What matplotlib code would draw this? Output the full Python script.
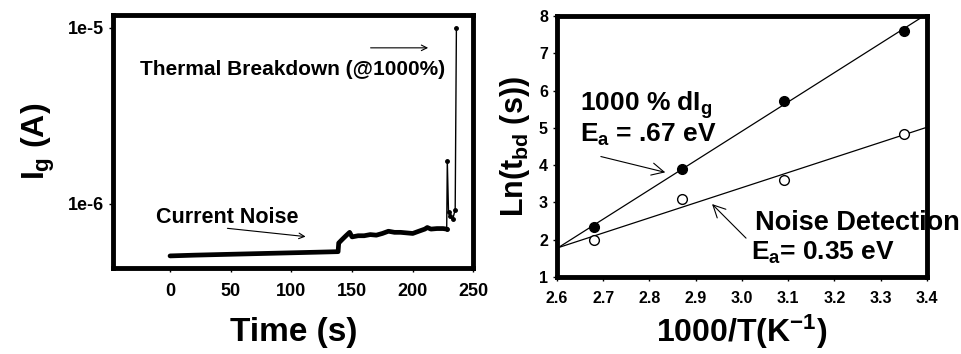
import numpy as np
import matplotlib.pyplot as plt

plt.rcParams['font.family'] = ['Liberation Sans', 'DejaVu Sans']
plt.rcParams['font.weight'] = 'bold'
plt.rcParams['mathtext.fontset'] = 'custom'
plt.rcParams['mathtext.rm'] = 'Liberation Sans:bold'
plt.rcParams['mathtext.it'] = 'Liberation Sans:bold'
plt.rcParams['mathtext.bf'] = 'Liberation Sans:bold'

# left panel: gate current vs time
time_noise = [0, 20, 40, 60, 80, 100, 120, 138.5, 139, 140, 142, 145, 148, 150, 155,
              160, 165, 170, 175, 180, 185, 190, 195, 200, 205, 210, 212, 215,
              220, 225, 228]
ig_noise = [5.07e-7, 5.12e-7, 5.16e-7, 5.2e-7, 5.24e-7, 5.28e-7, 5.32e-7, 5.36e-7,
            6.0e-7, 6.1e-7, 6.3e-7, 6.6e-7, 6.9e-7, 6.5e-7, 6.6e-7,
            6.6e-7, 6.7e-7, 6.65e-7, 6.8e-7, 7.0e-7, 6.9e-7, 6.9e-7, 6.85e-7,
            6.8e-7, 7.0e-7, 7.2e-7, 7.35e-7, 7.2e-7, 7.25e-7, 7.25e-7, 7.2e-7]
time_bd = [228, 228.5, 229.5, 231, 233, 235, 236]
ig_bd = [7.2e-7, 1.75e-6, 9.0e-7, 8.5e-7, 8.2e-7, 9.3e-7, 1.0e-5]

# right panel: Arrhenius plot
inv_t = [2.68, 2.87, 3.09, 3.35]
ln_tbd_1000 = [2.35, 3.9, 5.72, 7.6]
ln_tbd_noise = [2.0, 3.1, 3.6, 4.85]

fig = plt.figure(figsize=(9.61, 3.54), dpi=100)

ax1 = fig.add_axes([0.1176, 0.243, 0.375, 0.715])
ax1.plot(time_noise, ig_noise, 'k-', lw=3.4, solid_capstyle='round')
ax1.plot(time_bd, ig_bd, 'k-', lw=1.0, marker='o', ms=2.5)
ax1.set_yscale('log')
ax1.set_xlim(-47, 250)
ax1.set_ylim(4.33e-7, 1.185e-5)
ax1.set_xticks([0, 50, 100, 150, 200, 250])
ax1.set_yticks([1e-6, 1e-5])
ax1.set_yticklabels(['1e-6', '1e-5'])
ax1.yaxis.set_minor_locator(plt.NullLocator())
ax1.tick_params(labelsize=13, length=3, width=1)
ax1.tick_params(axis='x', pad=8)
ax1.set_xlabel('Time (s)', fontsize=24, fontweight='bold', labelpad=12)
ax1.set_ylabel(r'$I_g$ (A)', fontsize=23, fontweight='bold', labelpad=8)
for s in ax1.spines.values():
    s.set_linewidth(3.5)

ax1.text(101, 5.8e-6, 'Thermal Breakdown (@1000%)', fontsize=15, fontweight='bold',
         ha='center', va='center')
ax1.annotate('', xy=(215, 7.7e-6), xytext=(163, 7.7e-6),
             arrowprops=dict(arrowstyle='->', lw=0.8, color='k'))
ax1.text(47, 8.4e-7, 'Current Noise', fontsize=15.5, fontweight='bold',
         ha='center', va='center')
ax1.annotate('', xy=(114, 6.5e-7), xytext=(45, 7.3e-7),
             arrowprops=dict(arrowstyle='->', lw=0.8, color='k'))

ax2 = fig.add_axes([0.5796, 0.2175, 0.385, 0.737])
xs = np.array([2.6, 3.4])
for ys in (ln_tbd_1000, ln_tbd_noise):
    k, b = np.polyfit(inv_t, ys, 1)
    ax2.plot(xs, k * xs + b, 'k-', lw=0.9)
ax2.plot(inv_t, ln_tbd_1000, 'o', mfc='k', mec='k', ms=7)
ax2.plot(inv_t, ln_tbd_noise, 'o', mfc='white', mec='k', ms=7, mew=1)
ax2.set_xlim(2.6, 3.4)
ax2.set_ylim(1, 8)
ax2.set_xticks(np.arange(2.6, 3.45, 0.1))
ax2.set_xticklabels(['2.6', '2.7', '2.8', '2.9', '3.0', '3.1', '3.2', '3.3', '3.4'])
ax2.set_yticks(range(1, 9))
ax2.tick_params(labelsize=11.5, length=3, width=1)
ax2.tick_params(axis='x', pad=7)
ax2.set_xlabel(r'1000/T(K$^{-1}$)', fontsize=23, fontweight='bold', labelpad=5)
ax2.set_ylabel(r'Ln($t_{bd}$ (s))', fontsize=22, fontweight='bold', labelpad=5)
for s in ax2.spines.values():
    s.set_linewidth(3.5)

ax2.text(2.65, 5.61, r'1000 % d$I_g$', fontsize=19, fontweight='bold', va='center')
ax2.text(2.65, 4.8, r'$E_a$ = .67 eV', fontsize=19, fontweight='bold', va='center')
ax2.annotate('', xy=(2.84, 3.79), xytext=(2.689, 4.25),
             arrowprops=dict(arrowstyle='->', lw=0.8, color='k', mutation_scale=22))
ax2.text(3.249, 2.45, 'Noise Detection', fontsize=19.5, fontweight='bold',
         ha='center', va='center', clip_on=False)
ax2.text(3.175, 1.64, r'$E_a$= 0.35 eV', fontsize=19, fontweight='bold',
         ha='center', va='center')
ax2.annotate('', xy=(2.931, 3.01), xytext=(3.013, 1.99),
             arrowprops=dict(arrowstyle='->', lw=0.8, color='k', mutation_scale=22))

fig.savefig('out.png', dpi=100)
